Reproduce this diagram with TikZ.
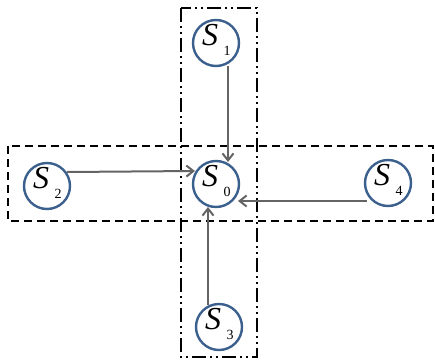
\documentclass[tikz,border=0pt]{standalone}
\usepackage{fontspec}
\setmainfont{Liberation Serif}
\usetikzlibrary{arrows.meta}
\definecolor{cblue}{RGB}{60,96,142}
\definecolor{agray}{RGB}{100,100,100}
\tikzset{
  st/.style={circle,draw=cblue,line width=2.4pt,minimum size=46pt,inner sep=0pt},
  conn/.style={draw=agray,line width=2pt,-{Straight Barb[length=7pt,width=11pt,line width=2pt]}},
  dashbox/.style={draw=black,line width=2.2pt,dash pattern=on 8pt off 5pt},
  dotbox/.style={draw=black,line width=2.2pt,dash pattern=on 14pt off 4pt on 2pt off 4pt on 2pt off 4pt}
}
\newcommand{\lbl}[2]{%
  \node[font=\fontsize{32}{32}\selectfont\itshape,inner sep=0pt] at ([shift={(-6pt,8pt)}]#1) {S};
  \node[font=\fontsize{14}{14}\selectfont,inner sep=0pt] at ([shift={(11pt,-8pt)}]#1) {#2};}
\begin{document}
\begin{tikzpicture}[x=1pt,y=-1pt]
\useasboundingbox (0,0) rectangle (435,361);
\draw[dotbox] (181,8) rectangle (257,357);
\draw[dashbox] (8,146) rectangle (433,221);
\node[st] (s1) at (216,43) {};
\node[st] (s2) at (47,186) {};
\node[st] (s0) at (216,184) {};
\node[st] (s4) at (388,183) {};
\node[st] (s3) at (219,327) {};
\lbl{s1}{1}
\lbl{s2}{2}
\lbl{s0}{0}
\lbl{s4}{4}
\lbl{s3}{3}
\path (s1) ++(12,23) coordinate (a1);
\path (s0) ++(12,-22) coordinate (b1);
\draw[conn] (a1) -- (b1);
\path (s3) ++(-11,-22) coordinate (a3);
\path (s0) ++(-8,23) coordinate (b3);
\draw[conn] (a3) -- (b3);
\path (s2) ++(20,-14) coordinate (a2);
\path (s0) ++(-21,-13) coordinate (b2);
\draw[conn] (a2) -- (b2);
\path (s4) ++(-21,18) coordinate (a4);
\path (s0) ++(22,17) coordinate (b4);
\draw[conn] (a4) -- (b4);
\end{tikzpicture}
\end{document}
